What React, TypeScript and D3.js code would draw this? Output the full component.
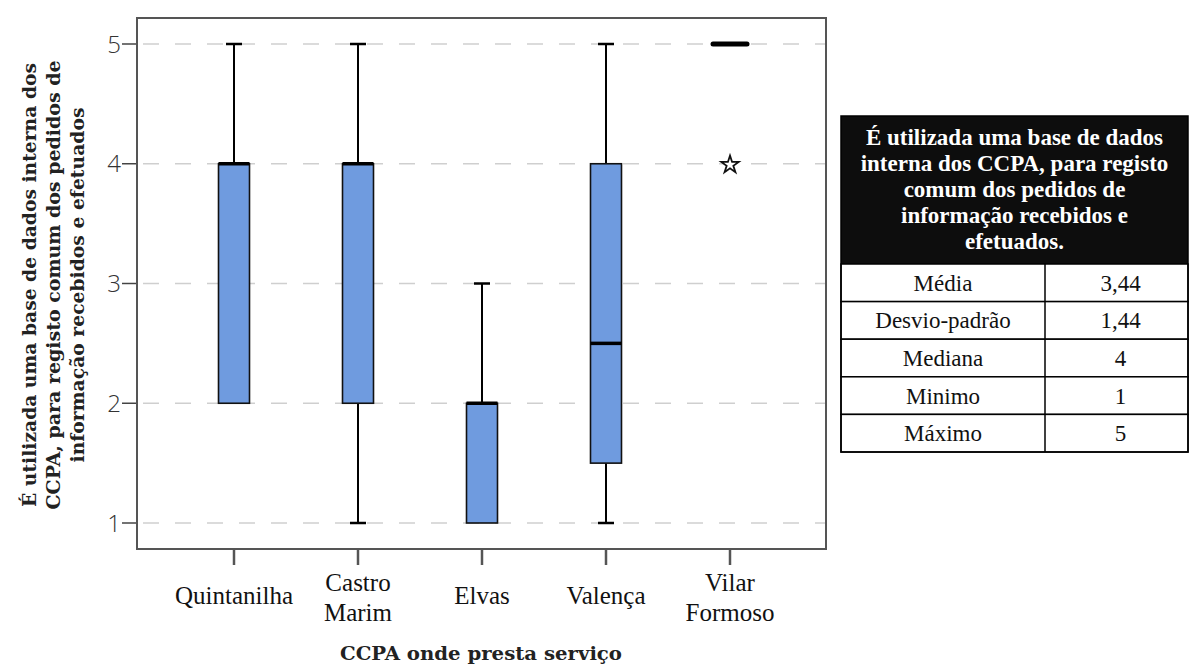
import React from "react";
import * as d3 from "d3";

const categories = ["Quintanilha", "Castro Marim", "Elvas", "Valença", "Vilar Formoso"];
const categoryLines = [["Quintanilha"], ["Castro", "Marim"], ["Elvas"], ["Valença"], ["Vilar", "Formoso"]];
const mins = [2, 1, 1, 1, 5];
const q1s = [2, 2, 1, 1.5, 5];
const medians = [4, 4, 2, 2.5, 5];
const q3s = [4, 4, 2, 4, 5];
const maxs = [5, 5, 3, 5, 5];
const outliers: { cat: string; value: number }[] = [{ cat: "Vilar Formoso", value: 4 }];
const yTicks = [1, 2, 3, 4, 5];

const yTitleLines = [
  "É utilizada uma base de dados interna dos",
  "CCPA, para registo comum dos pedidos de",
  "informação recebidos e efetuados",
];
const xTitle = "CCPA onde presta serviço";

const tableHeader = [
  "É utilizada uma base de dados",
  "interna dos CCPA, para registo",
  "comum dos pedidos de",
  "informação recebidos e",
  "efetuados.",
];
const statLabels = ["Média", "Desvio-padrão", "Mediana", "Minimo", "Máximo"];
const statValues = ["3,44", "1,44", "4", "1", "5"];

const W = 1190;
const H = 666;
const frame = { left: 137, top: 18, right: 826, bottom: 549 };

export default function App() {
  const y = d3.scaleLinear().domain([1, 5]).range([523, 44]);
  const x = d3.scalePoint<string>().domain(categories).range([234, 730]);
  const boxW = 31;
  const capW = 16;
  const serifFont = "'Liberation Serif', 'Times New Roman', serif";
  const slabFont = "'DejaVu Serif', serif";
  const star = d3.symbol().type(d3.symbolStar).size(95)() as string;

  const yTitleWidths = [444, 449, 355];
  const yTitleX = [30, 54, 78];

  // table
  const tL = 841, tR = 1188, tDiv = 1045, tTop = 116, tHeadBottom = 264, rowH = 37.6;

  return (
    <div style={{ position: "absolute", left: 0, top: 0 }}>
      <svg width={W} height={H} style={{ display: "block", background: "#fff" }}>
        {/* gridlines */}
        {yTicks.map((t) => (
          <line key={"g" + t} x1={frame.left + 2} x2={frame.right} y1={y(t)} y2={y(t)}
            stroke="#cfcfcf" strokeWidth={1.6} strokeDasharray="16 16" strokeDashoffset={-4} />
        ))}
        {/* y ticks and labels */}
        {yTicks.map((t) => (
          <g key={"yt" + t}>
            <line x1={122} x2={frame.left} y1={y(t)} y2={y(t)} stroke="#444" strokeWidth={1.5} />
            <text x={121} y={y(t)} dy="0.36em" textAnchor="end" fontFamily="'Open Sans', sans-serif"
              fontWeight={300} fontSize={24} fill="#333">{t}</text>
          </g>
        ))}
        {/* boxes */}
        {categories.map((c, i) => {
          const cx = x(c)!;
          const hasBox = q3s[i] > q1s[i];
          return (
            <g key={c}>
              {maxs[i] > q3s[i] && (
                <g>
                  <line x1={cx} x2={cx} y1={y(q3s[i])} y2={y(maxs[i])} stroke="#000" strokeWidth={2} />
                  <line x1={cx - capW / 2} x2={cx + capW / 2} y1={y(maxs[i])} y2={y(maxs[i])} stroke="#000" strokeWidth={2.5} />
                </g>
              )}
              {mins[i] < q1s[i] && (
                <g>
                  <line x1={cx} x2={cx} y1={y(q1s[i])} y2={y(mins[i])} stroke="#000" strokeWidth={2} />
                  <line x1={cx - capW / 2} x2={cx + capW / 2} y1={y(mins[i])} y2={y(mins[i])} stroke="#000" strokeWidth={2.5} />
                </g>
              )}
              {hasBox && (
                <rect x={cx - boxW / 2} y={y(q3s[i])} width={boxW} height={y(q1s[i]) - y(q3s[i])}
                  fill="#6f9bdf" stroke="#111" strokeWidth={1.6} />
              )}
              <line x1={cx - boxW / 2 - (hasBox ? 0 : 1.5)} x2={cx + boxW / 2 + (hasBox ? 0 : 1.5)}
                y1={y(medians[i])} y2={y(medians[i])} stroke="#000"
                strokeWidth={hasBox ? 3.5 : 5} strokeLinecap={hasBox ? "butt" : "round"} />
            </g>
          );
        })}
        {/* outliers */}
        {outliers.map((o, i) => (
          <path key={"o" + i} d={star} transform={`translate(${x(o.cat)},${y(o.value) + 1})`}
            fill="#fff" stroke="#111" strokeWidth={1.8} />
        ))}
        {/* frame */}
        <rect x={frame.left} y={frame.top} width={frame.right - frame.left} height={frame.bottom - frame.top}
          fill="none" stroke="#555" strokeWidth={2} />
        {/* x ticks and labels */}
        {categories.map((c, i) => {
          const cx = x(c)!;
          const lines = categoryLines[i];
          const baseY = lines.length === 1 ? 604 : 591;
          return (
            <g key={"xt" + c}>
              <line x1={cx} x2={cx} y1={frame.bottom} y2={565} stroke="#555" strokeWidth={2.5} />
              {lines.map((l, j) => (
                <text key={l} x={cx} y={baseY + j * 30} textAnchor="middle" fontFamily={serifFont}
                  fontSize={25} fill="#111">{l}</text>
              ))}
            </g>
          );
        })}
        {/* axis titles */}
        {yTitleLines.map((l, j) => (
          <text key={l} transform={`translate(${yTitleX[j] + 6},285) rotate(-90)`} textAnchor="middle"
            fontFamily={slabFont} fontWeight="bold" fontSize={18} fill="#222"
            textLength={yTitleWidths[j]} lengthAdjust="spacingAndGlyphs">{l}</text>
        ))}
        <text x={481} y={660} textAnchor="middle" fontFamily={slabFont} fontWeight="bold" fontSize={19}
          fill="#222" textLength={282} lengthAdjust="spacingAndGlyphs">{xTitle}</text>

        {/* table */}
        <rect x={tL} y={tTop} width={tR - tL} height={tHeadBottom - tTop} fill="#0d0d0d" />
        {tableHeader.map((l, j) => (
          <text key={l} x={(tL + tR) / 2} y={tTop + 29 + j * 26} textAnchor="middle" fontFamily={serifFont}
            fontWeight="bold" fontSize={23} fill="#fff">{l}</text>
        ))}
        {statLabels.map((s, i) => {
          const ry = tHeadBottom + i * rowH;
          return (
            <g key={s}>
              <rect x={tL} y={ry} width={tR - tL} height={rowH} fill="#fff" stroke="#000" strokeWidth={1.5} />
              <line x1={tDiv} x2={tDiv} y1={ry} y2={ry + rowH} stroke="#000" strokeWidth={1.5} />
              <text x={(tL + tDiv) / 2} y={ry + rowH / 2 + 8} textAnchor="middle" fontFamily={serifFont}
                fontSize={23} fill="#111">{s}</text>
              <text x={(tDiv + tR) / 2 + 4} y={ry + rowH / 2 + 8} textAnchor="middle" fontFamily={serifFont}
                fontSize={23} fill="#111">{statValues[i]}</text>
            </g>
          );
        })}
        <rect x={tL} y={tTop} width={tR - tL} height={tHeadBottom - tTop + rowH * 5} fill="none" stroke="#000" strokeWidth={1.5} />
      </svg>
    </div>
  );
}
